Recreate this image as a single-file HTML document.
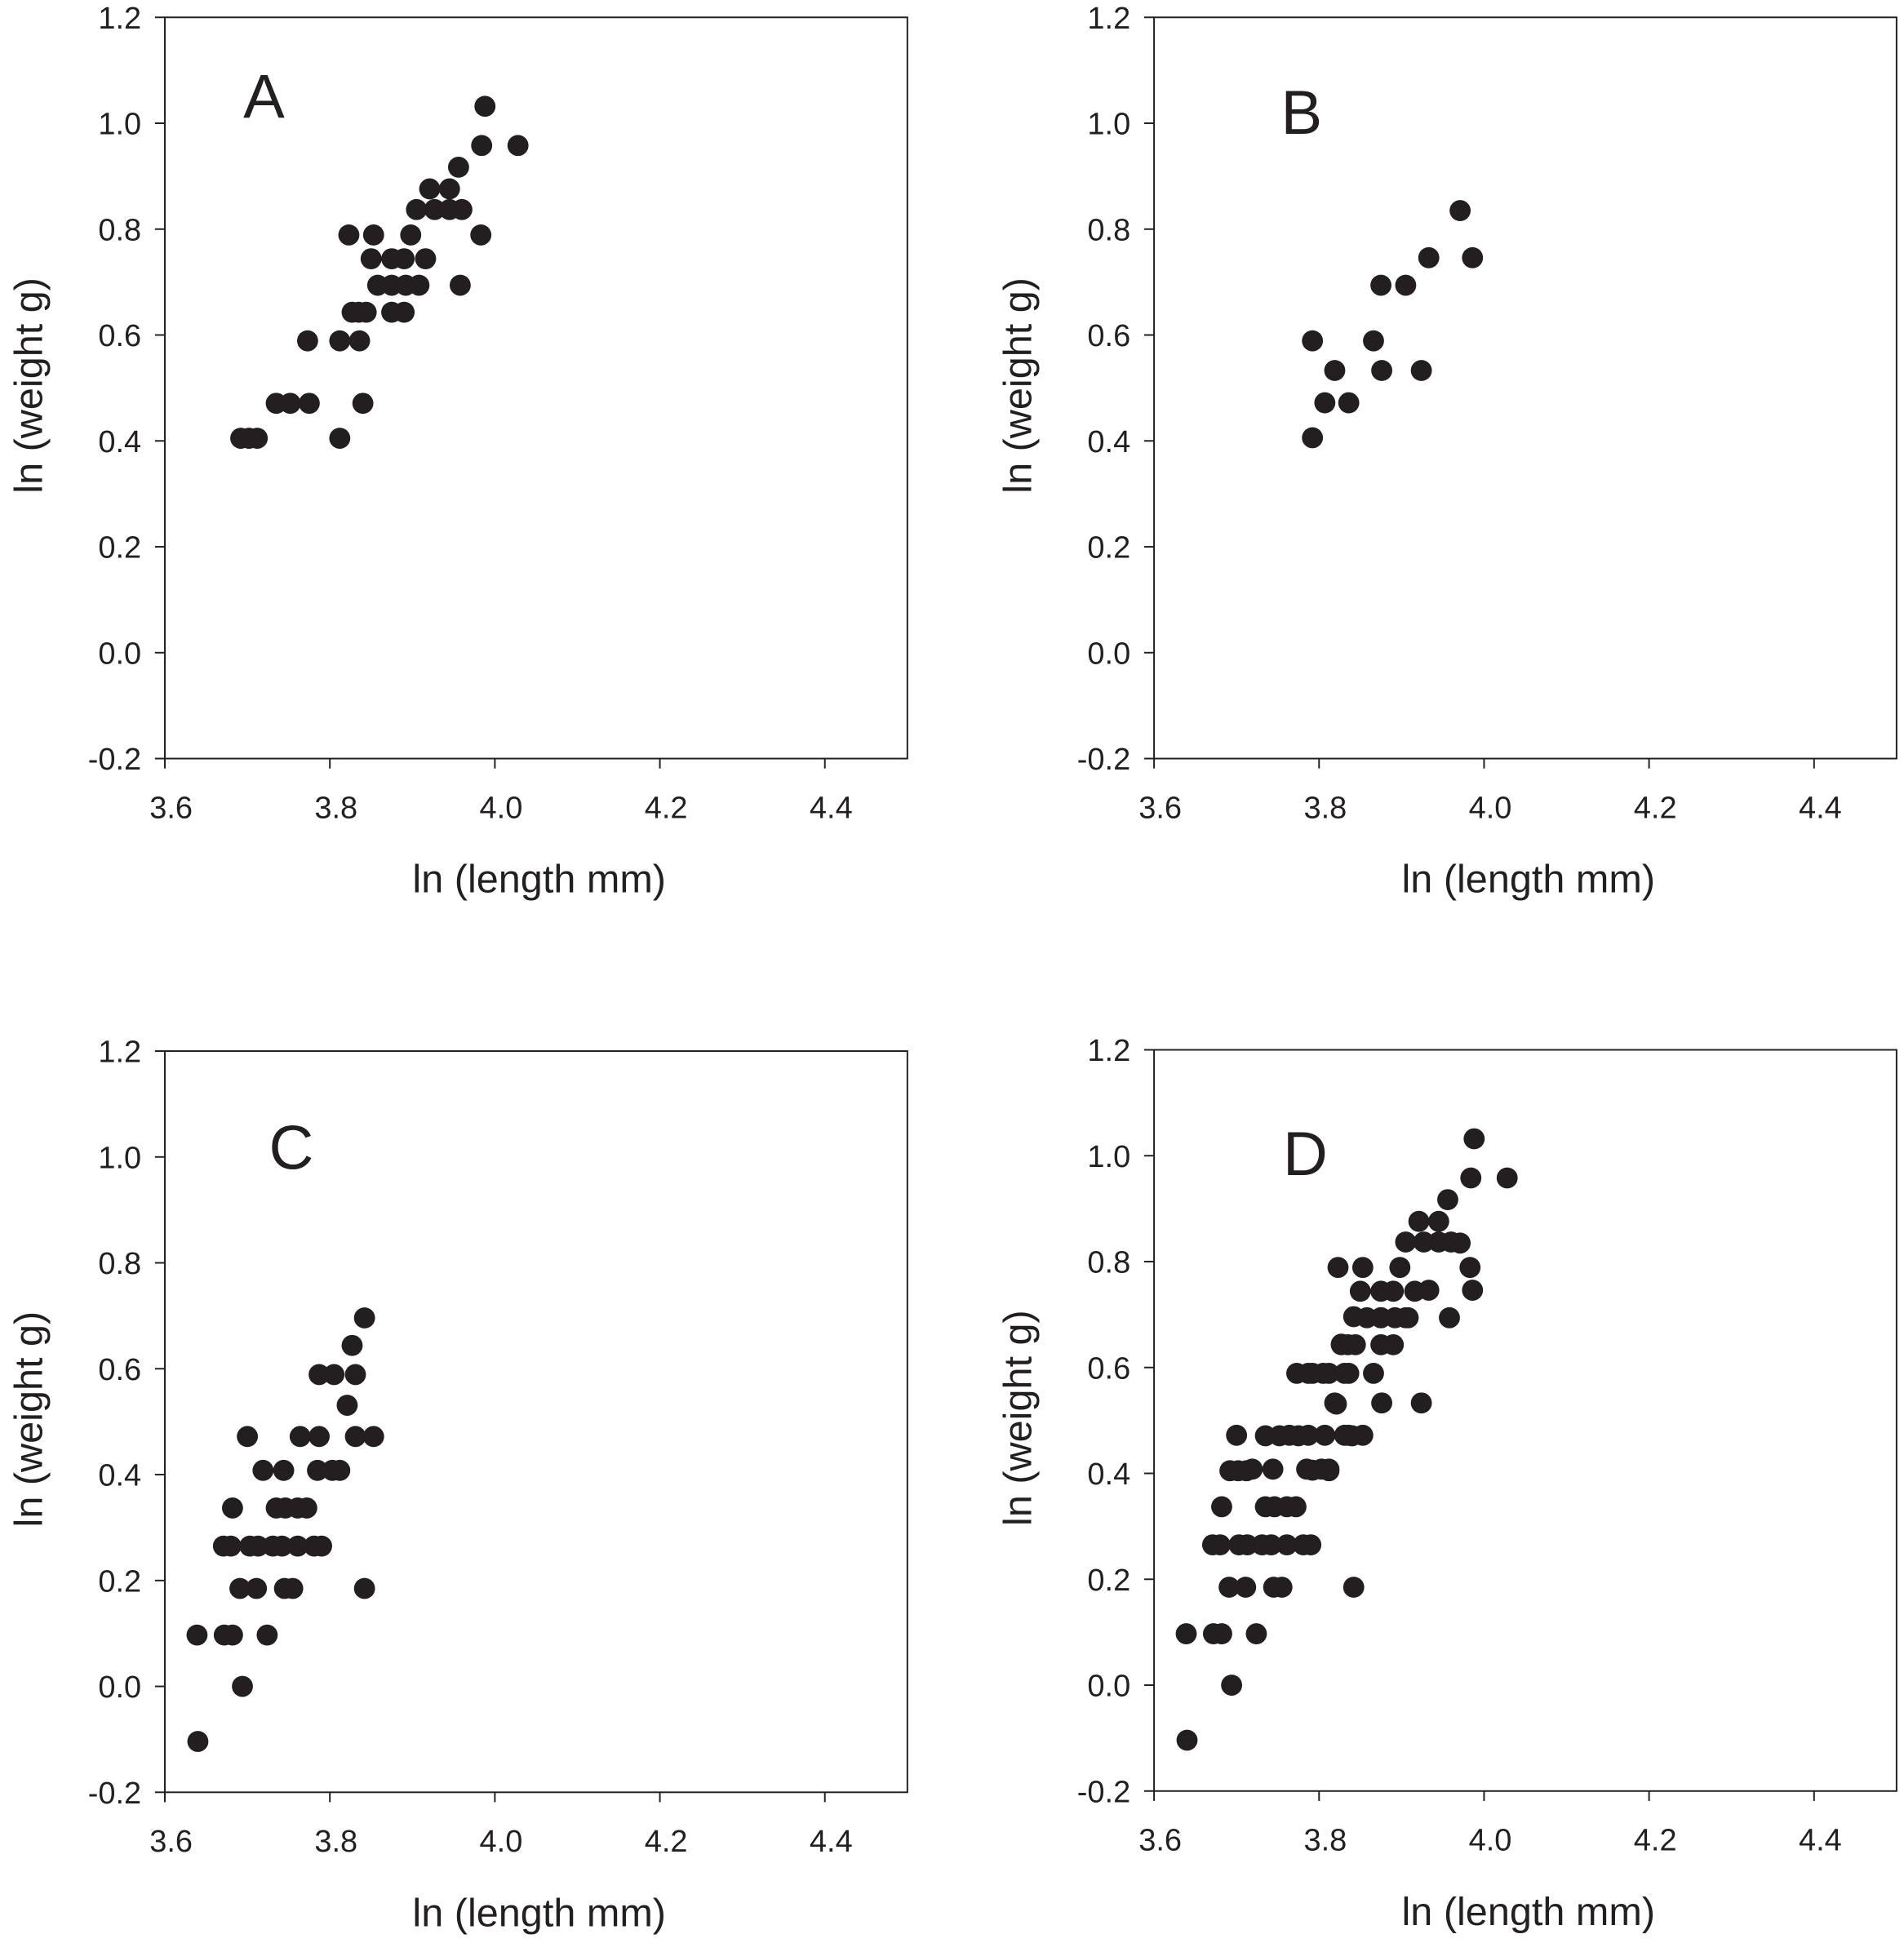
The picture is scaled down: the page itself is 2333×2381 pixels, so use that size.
<!DOCTYPE html>
<html><head><meta charset="utf-8"><style>
html,body{margin:0;padding:0;background:#fff;}
svg{display:block;}
text{font-family:"Liberation Sans",Arial,sans-serif;fill:#231f20;}
</style></head><body>
<svg id="fig" xmlns="http://www.w3.org/2000/svg" width="2333" height="2381" viewBox="0 0 1536 1567.6" preserveAspectRatio="none"></svg>
<script>
const xTicks = [3.6, 3.8, 4.0, 4.2, 4.4];
const yTicks = [-0.2, 0.0, 0.2, 0.4, 0.6, 0.8, 1.0, 1.2];
const xTickLabels = ["3.6","3.8","4.0","4.2","4.4"];
const yTickLabels = ["-0.2","0.0","0.2","0.4","0.6","0.8","1.0","1.2"];
const panelLetters = ["A","B","C","D"];

const aX = [3.692,3.702,3.712,3.735,3.752,3.775,3.773,3.812,3.812,3.836,3.840,3.823,3.827,3.835,3.844,3.853,3.850,3.875,3.890,3.916,3.858,3.875,3.892,3.908,3.958,3.875,3.890,3.898,3.983,3.905,3.927,3.945,3.960,3.921,3.945,3.956,3.984,4.028,3.988];
const aY = [0.405,0.405,0.405,0.471,0.471,0.471,0.589,0.405,0.589,0.589,0.471,0.789,0.643,0.643,0.643,0.789,0.744,0.744,0.744,0.744,0.694,0.694,0.694,0.694,0.694,0.643,0.643,0.789,0.789,0.837,0.837,0.837,0.837,0.876,0.876,0.917,0.958,0.958,1.032];

const bX = [3.792,3.792,3.807,3.819,3.836,3.866,3.876,3.875,3.905,3.924,3.933,3.971,3.986];
const bY = [0.589,0.406,0.472,0.533,0.472,0.589,0.533,0.694,0.694,0.533,0.746,0.835,0.746];

const cX = [3.640,3.639,3.672,3.682,3.724,3.694,3.691,3.711,3.745,3.755,3.842,3.671,3.680,3.703,3.713,3.731,3.742,3.761,3.781,3.790,3.682,3.735,3.746,3.761,3.772,3.719,3.744,3.785,3.803,3.812,3.700,3.764,3.787,3.831,3.853,3.787,3.805,3.831,3.821,3.827,3.842];
const cY = [-0.104,0.097,0.097,0.097,0.097,0.0,0.185,0.185,0.185,0.185,0.185,0.265,0.265,0.265,0.265,0.265,0.265,0.265,0.265,0.265,0.337,0.337,0.337,0.337,0.337,0.408,0.408,0.408,0.408,0.408,0.472,0.472,0.472,0.472,0.472,0.589,0.589,0.589,0.531,0.644,0.696];

const dX = aX.concat(bX, cX);
const dY = aY.concat(bY, cY);

const panels = [
  {ox:133, oy:14, xs:aX, ys:aY, lx:213, ly:95},
  {ox:931, oy:14, xs:bX, ys:bY, lx:1050, ly:108},
  {ox:133, oy:848, xs:cX, ys:cY, lx:235, ly:943},
  {ox:931, oy:847, xs:dX, ys:dY, lx:1053, ly:948}
];
const NS = "http://www.w3.org/2000/svg";
const svg = document.getElementById('fig');
function mk(tag, attrs, parent){
  const e = document.createElementNS(NS, tag);
  for (const k in attrs) e.setAttribute(k, attrs[k]);
  parent.appendChild(e);
  return e;
}
const W = 599, H = 598, X0 = 3.6, X1 = 4.5, Y0 = -0.2, Y1 = 1.2;
panels.forEach((p, i) => {
  const L = panelLetters[i].toLowerCase();
  const sx = v => p.ox + (v - X0) / (X1 - X0) * W;
  const sy = v => p.oy + H - (v - Y0) / (Y1 - Y0) * H;
  const g = mk('g', {}, svg);
  
  
  const frame = mk('rect', {x:p.ox, y:p.oy, width:W, height:H, fill:'none', stroke:'#231f20', 'stroke-width':1.3}, g);
  
  
  xTicks.forEach((t, j) => {
    const x = sx(t);
    const tk = mk('line', {x1:x, x2:x, y1:p.oy+H, y2:p.oy+H+8, stroke:'#231f20', 'stroke-width':1.3}, g);
    
    
    const tl = mk('text', {x:x+5, y:p.oy+H+48, 'font-size':25, 'text-anchor':'middle'}, g);
    tl.textContent = xTickLabels[j];
    
    
  });
  yTicks.forEach((t, j) => {
    const y = sy(t);
    const tk = mk('line', {x1:p.ox-8, x2:p.ox, y1:y, y2:y, stroke:'#231f20', 'stroke-width':1.3}, g);
    
    
    const tl = mk('text', {x:p.ox-19, y:y+9, 'font-size':25, 'text-anchor':'end'}, g);
    tl.textContent = yTickLabels[j];
    
    
  });
  const xt = mk('text', {x:p.ox+302, y:p.oy+H+108, 'font-size':32, 'text-anchor':'middle'}, g);
  xt.textContent = 'ln (length mm)';
  
  
  const yx = p.ox - 99, yy = p.oy + 297;
  const yt = mk('text', {x:yx, y:yy, 'font-size':32, 'text-anchor':'middle', transform:'rotate(-90 '+yx+' '+yy+')'}, g);
  yt.textContent = 'ln (weight g)';
  
  
  const lt = mk('text', {x:p.lx, y:p.ly, 'font-size':50, 'text-anchor':'middle'}, g);
  lt.textContent = panelLetters[i];
  
  
  p.xs.forEach((xv, k) => {
    const c = mk('circle', {cx:sx(xv), cy:sy(p.ys[k]), r:8.5, fill:'#231f20'}, g);
    
    
  });
});
</script>
</body></html>
